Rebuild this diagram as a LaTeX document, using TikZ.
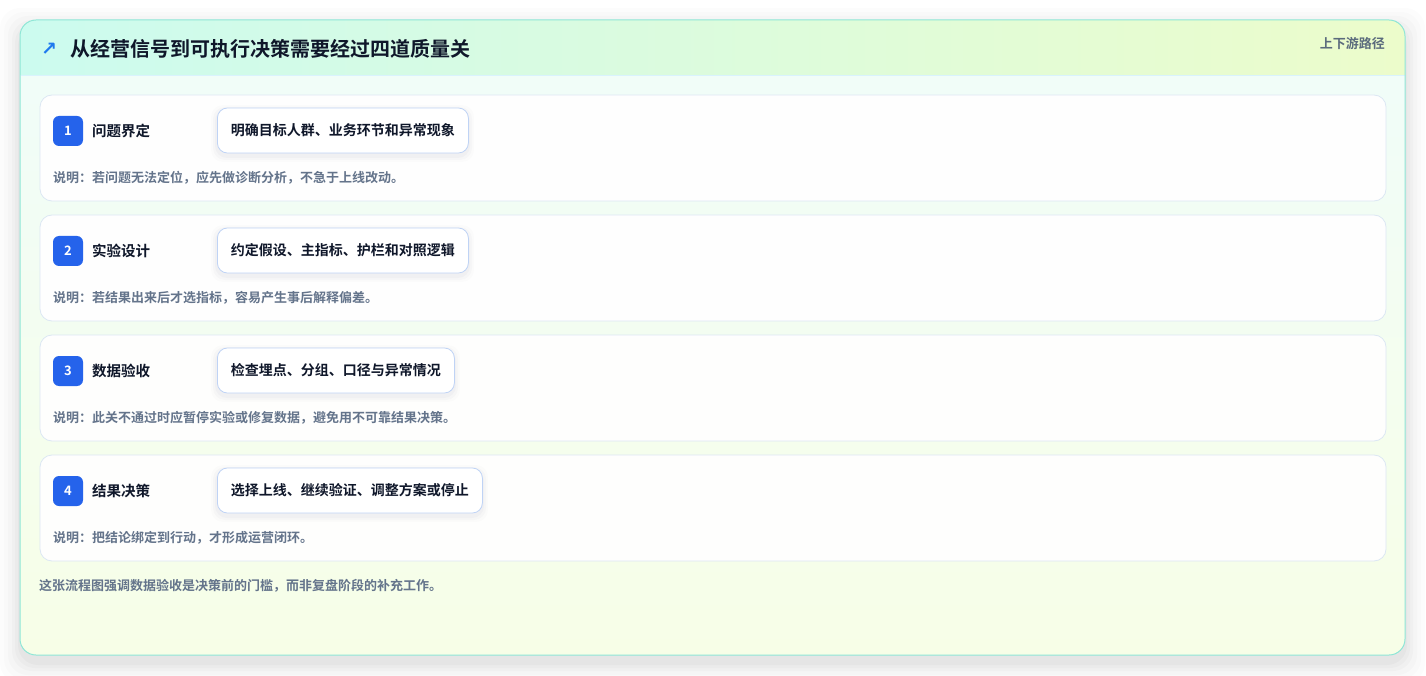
\documentclass[tikz,border=0pt]{standalone}
\usepackage{fontspec}
\setmainfont{Noto Sans CJK SC}[BoldFont={Noto Sans CJK SC Bold}]
\newfontfamily\symfont{DejaVu Sans Bold}
\usetikzlibrary{positioning,calc}
\definecolor{cardborder}{HTML}{8EE6D6}
\definecolor{hdrL}{HTML}{CCFBEF}
\definecolor{hdrR}{HTML}{ECFCCB}
\definecolor{bodyT}{HTML}{F0FDFA}
\definecolor{bodyB}{HTML}{F7FEE7}
\definecolor{rowborder}{HTML}{DCE7F3}
\definecolor{boxborder}{HTML}{BFD3F5}
\definecolor{badgeblue}{HTML}{2563EB}
\definecolor{titleink}{HTML}{0F172A}
\definecolor{noteink}{HTML}{64748B}
\definecolor{sideink}{HTML}{5B6B7D}
\tikzset{
  rowcard/.style={draw=rowborder, line width=0.8pt, fill=white, fill opacity=0.93, rounded corners=12pt},
  badge/.style={fill=badgeblue, rounded corners=6pt, minimum width=30pt, minimum height=30pt, inner sep=0pt, text=white, font=\bfseries\fontsize{13}{13}\selectfont},
  steplabel/.style={anchor=west, inner sep=0pt, text=titleink, font=\bfseries\fontsize{14.5}{15}\selectfont},
  checkbox/.style={draw=boxborder, line width=0.8pt, fill=white, rounded corners=10pt, minimum height=45pt, inner xsep=13.5pt, inner ysep=0pt, anchor=west, text=titleink, font=\bfseries\fontsize{14}{14}\selectfont},
  notetext/.style={anchor=west, inner sep=0pt, text=noteink, font=\bfseries\fontsize{13}{13}\selectfont},
}
\begin{document}
\begin{tikzpicture}[x=1pt,y=-1pt]
\useasboundingbox (0,0) rectangle (1426,676);
% card shadow
\foreach \s/\o in {20/0.01,16/0.012,12/0.015,8/0.018,5/0.02,2/0.025}{
  \fill[black, opacity=\o, rounded corners=20pt] (20-\s,28-\s) rectangle (1405+\s,663+\s);
}
% card body
\shade[top color=bodyT, bottom color=bodyB, rounded corners=16pt] (20,20) rectangle (1405,655);
% header
\begin{scope}
\clip[rounded corners=16pt] (20,20) rectangle (1405,655);
\shade[left color=hdrL, right color=hdrR] (20,20) rectangle (1405,75);
\end{scope}
\draw[draw=white!85!cyan, line width=0.8pt] (20.5,75.5) -- (1404.5,75.5);
\draw[cardborder, line width=1pt, rounded corners=16pt] (20,20) rectangle (1405,655);
% title
\node[anchor=west, inner sep=0pt, text=badgeblue!85!cyan, font=\symfont\fontsize{19}{19}\selectfont] (icon) at (41,49) {↗};
\node[anchor=west, inner sep=0pt, text=titleink, font=\bfseries\fontsize{20}{20}\selectfont] (title) at (70,49) {从经营信号到可执行决策需要经过四道质量关};
\node[anchor=east, inner sep=0pt, text=sideink, font=\bfseries\fontsize{13}{13}\selectfont] (side) at (1385,44) {上下游路径};
% rows
\foreach \i/\lab/\bx/\w/\note in {
  1/问题界定/明确目标人群、业务环节和异常现象/251/说明：若问题无法定位，应先做诊断分析，不急于上线改动。,
  2/实验设计/约定假设、主指标、护栏和对照逻辑/251/说明：若结果出来后才选指标，容易产生事后解释偏差。,
  3/数据验收/检查埋点、分组、口径与异常情况/237/说明：此关不通过时应暂停实验或修复数据，避免用不可靠结果决策。,
  4/结果决策/选择上线、继续验证、调整方案或停止/265/说明：把结论绑定到行动，才形成运营闭环。}{
  \pgfmathsetmacro{\t}{95+120*(\i-1)}
  \draw[rowcard] (40,\t) rectangle (1386,\t+106);
  \node[badge] (b\i) at (68,\t+36) {\i};
  \node[steplabel] (l\i) at (92,\t+36) {\lab};
  \foreach \s/\o in {6/0.012,4/0.018,2/0.025}{
    \fill[black!70!blue, opacity=\o, rounded corners=12pt] (217-\s,\t+13-\s+3) rectangle (217+\w+\s,\t+58+\s+3);
  }
  \node[checkbox] (c\i) at (217,\t+35.5) {\bx};
  \node[notetext] (n\i) at (53,\t+83) {\note};
}
\node[notetext] (foot) at (39,586) {这张流程图强调数据验收是决策前的门槛，而非复盘阶段的补充工作。};
\end{tikzpicture}
\end{document}
